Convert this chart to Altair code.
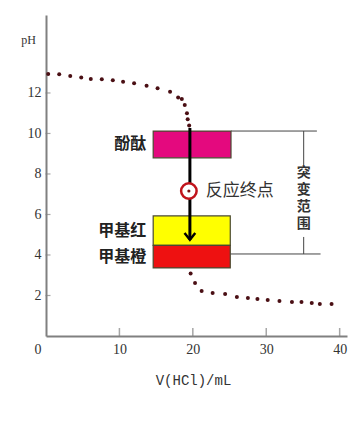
import altair as alt
import pandas as pd

# titration curve (volume of HCl in mL, pH)
vol = [0.3, 1.8, 3.3, 4.8, 6.1, 7.6, 9.1, 10.5, 12.0, 13.7, 15.2, 16.9, 18.0,
       18.5, 18.9, 19.2, 19.3, 19.5,
       19.7, 20.3, 21.2, 22.7, 24.4, 26.0, 27.5, 28.8, 30.2, 31.8, 33.5, 34.8, 36.2, 37.3, 38.9]
ph = [12.94, 12.92, 12.84, 12.76, 12.69, 12.68, 12.63, 12.56, 12.48, 12.36, 12.23, 12.06, 11.78,
      11.70, 11.40, 11.00, 10.70, 10.40,
      3.08, 2.62, 2.22, 2.12, 2.07, 1.93, 1.88, 1.83, 1.78, 1.73, 1.68, 1.68, 1.63, 1.58, 1.58]

x_ticks = [10, 20, 30, 40]
y_ticks = [2, 4, 6, 8, 10, 12]

# indicator colour-change ranges
ind_names = ["酚酞", "甲基红", "甲基橙"]
ind_lo = [8.8, 4.47, 3.36]
ind_hi = [10.12, 5.93, 4.47]
ind_x0 = [14.6, 14.6, 14.6]
ind_x1 = [25.2, 25.1, 25.1]
ind_colors = ["#E4097E", "#FFFF00", "#EE1111"]

# end point
end_v = [19.46]
end_ph = [7.16]
end_label = ["反应终点"]

# arrow
arrow_v = [19.6]
arrow_top = [10.27]
arrow_bot = [4.75]

# jump range bracket
br_h_y = [10.12, 4.05]
br_h_x0 = [25.2, 25.1]
br_h_x1 = [36.9, 37.4]
br_v_x = [35.1, 35.1]
br_v_y0 = [10.12, 4.89]
br_v_y1 = [8.44, 4.05]
br_chars = ["突", "变", "范", "围"]
br_char_ph = [8.05, 7.21, 6.37, 5.53]
br_char_x = [35.1, 35.1, 35.1, 35.1]

XS = alt.Scale(domain=[0, 41], nice=False, zero=False)
YS = alt.Scale(domain=[0, 15.85], nice=False, zero=False)

XAX = alt.Axis(
    values=x_ticks, title="V(HCl)/mL", ticks=False, grid=False,
    labelFont="Liberation Serif", labelFontSize=14, labelColor="#333",
    labelPadding=6, domainColor="#808080", domainWidth=2,
    titleFont="Liberation Mono", titleFontSize=14, titleFontWeight="normal",
    titleColor="#333", titleY=44, titleX=147, titleBaseline="middle")
YAX = alt.Axis(
    values=y_ticks, title="pH", ticks=False, grid=False,
    labelFont="Liberation Serif", labelFontSize=14, labelColor="#333",
    labelPadding=5, domainColor="#808080", domainWidth=2,
    titleFont="Liberation Serif", titleFontSize=12, titleFontWeight="normal",
    titleColor="#333", titleAngle=0, titleX=-18, titleY=24,
    titleAlign="center", titleBaseline="middle")


def X(f):
    return alt.X(f, type="quantitative", scale=XS, axis=XAX)


def Y(f):
    return alt.Y(f, type="quantitative", scale=YS, axis=YAX)


curve = pd.DataFrame({"v": vol, "ph": ph})

dots = alt.Chart(curve).mark_circle(size=16, color="#4a0f14", opacity=1).encode(
    x=X("v"), y=Y("ph"))

origin = alt.Chart(pd.DataFrame({"v": [0], "ph": [0], "t": ["0"]})).mark_text(
    font="Liberation Serif", fontSize=14, color="#333", dx=-8, dy=14).encode(
    x=X("v"), y=Y("ph"), text="t:N")

yt = alt.Chart(pd.DataFrame({"ph": y_ticks})).mark_tick(
    orient="horizontal", size=5, thickness=1.2, color="#808080").encode(
    x=alt.value(2), y=Y("ph"))
xt = alt.Chart(pd.DataFrame({"v": x_ticks})).mark_tick(
    orient="vertical", size=8, thickness=1.5, color="#808080").encode(
    x=X("v"), y=alt.value(317))

ind = pd.DataFrame({"name": ind_names, "lo": ind_lo, "hi": ind_hi,
                    "x0": ind_x0, "x1": ind_x1, "c": ind_colors})
boxes = alt.Chart(ind).mark_rect(stroke="#4a4a30", strokeWidth=1.2).encode(
    x=X("x0"), x2="x1:Q", y=Y("lo"), y2="hi:Q",
    color=alt.Color("c:N", scale=None))
ind_txt = alt.Chart(ind).transform_calculate(mid="(datum.lo + datum.hi) / 2").mark_text(
    align="right", dx=-7, font="Noto Sans CJK SC", fontSize=16, fontWeight="bold",
    color="#222").encode(x=X("x0"), y=Y("mid"), text="name:N")

arr = pd.DataFrame({"v": arrow_v, "top": arrow_top, "bot": arrow_bot})
arrow_line = alt.Chart(arr).mark_rule(color="black", strokeWidth=3).encode(
    x=X("v"), y=Y("top"), y2="bot:Q")
arrow_head = alt.Chart(arr).mark_point(
    shape="M-0.8,-1L0,0L0.8,-1", filled=False, size=180, color="black",
    strokeWidth=2.5, opacity=1).encode(x=X("v"), y=Y("bot"))

endp = pd.DataFrame({"v": end_v, "ph": end_ph, "t": end_label})
ring = alt.Chart(endp).mark_point(shape="circle", size=240, fill="white", fillOpacity=1,
                                  stroke="#c0141c", strokeWidth=2.5, opacity=1).encode(
    x=X("v"), y=Y("ph"))
center = alt.Chart(endp).mark_circle(size=10, color="#7a1010", opacity=1).encode(
    x=X("v"), y=Y("ph"))
end_txt = alt.Chart(endp).mark_text(align="left", dx=17, font="Noto Sans CJK SC",
                                    fontSize=17, color="#333").encode(
    x=X("v"), y=Y("ph"), text="t:N")

brh = pd.DataFrame({"y": br_h_y, "x0": br_h_x0, "x1": br_h_x1})
br_h = alt.Chart(brh).mark_rule(color="#444", strokeWidth=1).encode(
    x=X("x0"), x2="x1:Q", y=Y("y"))
brv = pd.DataFrame({"x": br_v_x, "y0": br_v_y0, "y1": br_v_y1})
br_v = alt.Chart(brv).mark_rule(color="#444", strokeWidth=1).encode(
    x=X("x"), y=Y("y0"), y2="y1:Q")
brc = pd.DataFrame({"x": br_char_x, "y": br_char_ph, "t": br_chars})
br_txt = alt.Chart(brc).mark_text(font="Noto Sans CJK SC", fontSize=14, fontWeight="bold",
                                  color="#333", baseline="middle").encode(
    x=X("x"), y=Y("y"), text="t:N")

chart = alt.layer(
    dots, origin, yt, xt, boxes, ind_txt, br_h, br_v, br_txt,
    arrow_line, arrow_head, ring, center, end_txt
).properties(
    width=301, height=321,
    autosize=alt.AutoSizeParams(type="none"),
    padding={"left": 46, "top": 15, "right": 17, "bottom": 85},
    background="white",
).configure_view(stroke=None)

chart.save("out.html", embed_options={"renderer": "svg", "actions": False})
